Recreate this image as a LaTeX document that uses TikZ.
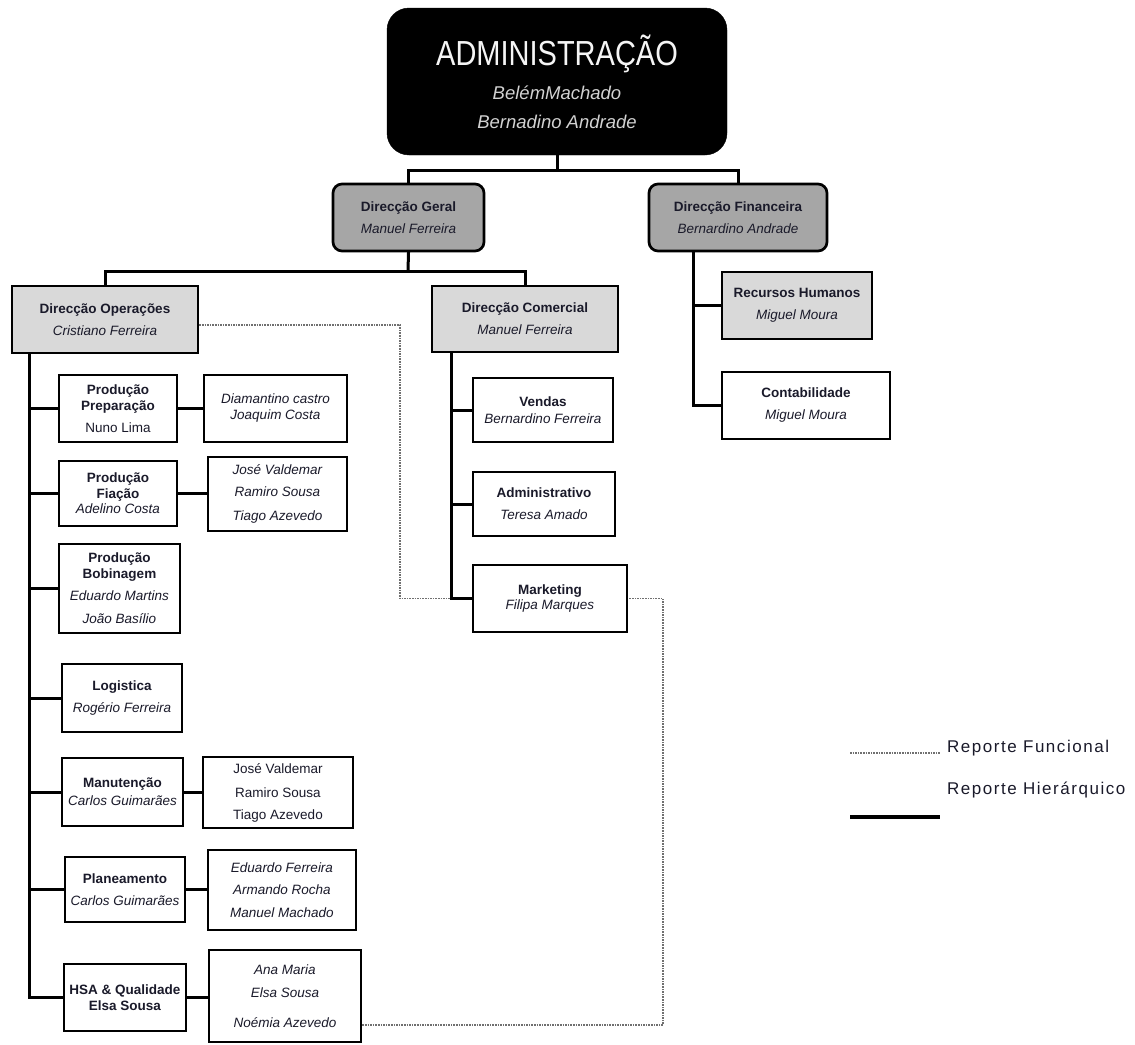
\documentclass[tikz,border=0pt]{standalone}
\usepackage{fontspec}
\setmainfont{Liberation Sans}
\usetikzlibrary{calc}

\definecolor{boxgray}{HTML}{D9D9D9}
\definecolor{dirgray}{HTML}{A6A6A6}
\definecolor{inkcol}{HTML}{1A1A2A}
\definecolor{funcgray}{HTML}{707070}

\newcommand\boxfont{\fontsize{13.5}{22}\selectfont\lineskiplimit=-50pt\relax}
\newcommand\legfont{\fontsize{17}{19}\selectfont\addfontfeature{LetterSpace=9}}

\tikzset{
  box/.style={draw=black, line width=2.7pt, inner sep=0pt, align=center,
              font=\boxfont, text=inkcol, fill=white},
  lightbox/.style={box, fill=boxgray},
  dirbox/.style={box, fill=dirgray, rounded corners=9pt},
  topbox/.style={draw=black, fill=black, rounded corners=22pt, inner sep=0pt,
                 align=center, text=gray!35, font=\fontsize{18.5}{29}\selectfont},
  hier/.style={line width=3pt, line cap=rect},
  func/.style={draw=funcgray, line width=1.6pt, densely dotted},
}

\begin{document}
\begin{tikzpicture}[x=1pt, y=-1pt]
\useasboundingbox (0,0) rectangle (1135,1044);

% ---- top levels
\node[topbox, minimum width=340pt, minimum height=147pt] (admin) at (557,81.5)
  {\scalebox{1}[1.2]{\fontsize{29}{30}\selectfont\color{gray!8}ADMINISTRAÇÃO}\\[5pt]
   \textit{BelémMachado}\\ \textit{Bernadino Andrade}};

\node[dirbox, minimum width=151pt, minimum height=67pt] (dg) at (408.5,217.5)
  {\textbf{Direcção Geral}\\ \textit{Manuel Ferreira}};
\node[dirbox, minimum width=178pt, minimum height=67pt] (df) at (738,217.5)
  {\textbf{Direcção Financeira}\\ \textit{Bernardino Andrade}};

\node[lightbox, minimum width=186pt, minimum height=67pt] (dop) at (105,319.5)
  {\textbf{Direcção Operações}\\ \textit{Cristiano Ferreira}};
\node[lightbox, minimum width=186pt, minimum height=66pt] (dcom) at (525,319)
  {\textbf{Direcção Comercial}\\ \textit{Manuel Ferreira}};

% ---- financial branch
\node[lightbox, minimum width=150pt, minimum height=67pt] (rh) at (797,305.5)
  {\textbf{Recursos Humanos}\\ \textit{Miguel Moura}};
\node[box, minimum width=168pt, minimum height=67pt] (cont) at (806,405.5)
  {\textbf{Contabilidade}\\ \textit{Miguel Moura}};

% ---- commercial branch
\node[box, minimum width=140pt, minimum height=64pt] (vend) at (543,410)
  {\textbf{Vendas}\\[-5pt] \textit{Bernardino Ferreira}};
\node[box, minimum width=142pt, minimum height=64pt] (adm) at (544,504)
  {\textbf{Administrativo}\\ \textit{Teresa Amado}};
\node[box, minimum width=154pt, minimum height=67pt] (mkt) at (550,598.5)
  {\textbf{Marketing}\\[-7pt] \textit{Filipa Marques}};

% ---- operations branch
\node[box, minimum width=118pt, minimum height=67pt] (pp) at (118,408.5)
  {\textbf{Produção}\\[-6pt] \textbf{Preparação}\\ Nuno Lima};
\node[box, minimum width=143pt, minimum height=67pt] (ppR) at (275.5,408.5)
  {\textit{Diamantino castro}\\[-6pt] \textit{Joaquim Costa}};

\node[box, minimum width=118pt, minimum height=65pt] (pf) at (118,493.5)
  {\textbf{Produção}\\[-6pt] \textbf{Fiação}\\[-7pt] \textit{Adelino Costa}};
\node[box, minimum width=139pt, minimum height=74pt] (pfR) at (277.5,494)
  {\textit{José Valdemar}\\ \textit{Ramiro Sousa}\\[2pt] \textit{Tiago Azevedo}};

\node[box, minimum width=121pt, minimum height=89pt] (pb) at (119.5,588.5)
  {\textbf{Produção}\\[-6pt] \textbf{Bobinagem}\\ \textit{Eduardo Martins}\\[1pt] \textit{João Basílio}};

\node[box, minimum width=120pt, minimum height=68pt] (log) at (122,698)
  {\textbf{Logistica}\\ \textit{Rogério Ferreira}};

\node[box, minimum width=121pt, minimum height=68pt] (man) at (122.5,792)
  {\textbf{Manutenção}\\[-4pt] \textit{Carlos Guimarães}};
\node[box, minimum width=150pt, minimum height=71pt] (manR) at (278,792.5)
  {José Valdemar\\[2pt] Ramiro Sousa\\ Tiago Azevedo};

\node[box, minimum width=120pt, minimum height=65pt] (plan) at (125,889.5)
  {\textbf{Planeamento}\\ \textit{Carlos Guimarães}};
\node[box, minimum width=148pt, minimum height=80pt] (planR) at (282,890)
  {\textit{Eduardo Ferreira}\\ \textit{Armando Rocha}\\[1pt] \textit{Manuel Machado}};

\node[box, minimum width=122pt, minimum height=67pt] (hsa) at (125,997.5)
  {\textbf{HSA \& Qualidade}\\[-6pt] \textbf{Elsa Sousa}};
\node[box, minimum width=152pt, minimum height=92pt] (hsaR) at (285,996)
  {\textit{Ana Maria}\\[1pt] \textit{Elsa Sousa}\\[8pt] \textit{Noémia Azevedo}};

% ---- trunk points
\coordinate (b1) at (557,170);
\coordinate (b2) at (408,271);
\coordinate (ltrunk) at (29,354);
\coordinate (mtrunk) at (451,353);
\coordinate (rtrunk) at (693,252);

% ---- hierarchical connectors
\begin{scope}[hier]
  \draw (admin.south) -- (b1);
  \draw (dg.north) |- (b1) -| (df.north);
  \draw (dg.south) -- (b2);
  \draw (dop.north) |- (b2) -| (dcom.north);

  \draw (rtrunk) |- (cont.west);
  \draw (rtrunk |- rh.west) -- (rh.west);

  \draw (mtrunk) |- (mkt.west);
  \draw (mtrunk |- vend.west) -- (vend.west);
  \draw (mtrunk |- adm.west) -- (adm.west);

  \draw (ltrunk) |- (hsa.west);
  \foreach \n in {pp,pf,pb,log,man,plan}
    \draw (ltrunk |- \n.west) -- (\n.west);

  \draw (pp.east) -- (ppR.west);
  \draw (pf.east) -- (pf.east -| pfR.west);
  \draw (man.east) -- (man.east -| manR.west);
  \draw (plan.east) -- (plan.east -| planR.west);
  \draw (hsa.east) -- (hsa.east -| hsaR.west);
\end{scope}

% ---- functional reporting lines
\coordinate (fa) at (400,325);
\coordinate (fb) at (663,1025);
\draw[func] ([yshift=-5.5pt]dop.east) -- (fa) |- (mtrunk |- mkt.west);
\draw[func] (hsaR.east |- fb) -- (fb) |- (mkt.east);

% ---- legend
\coordinate (lf1) at (850,753);
\coordinate (lf2) at (940,753);
\coordinate (lh1) at (850,817);
\coordinate (lh2) at (940,817);
\draw[func] (lf1) -- (lf2);
\draw[line width=3.8pt] (lh1) -- (lh2);
\node[anchor=west, inner sep=0pt, font=\legfont, text=inkcol] (lfun) at (947,748) {Reporte Funcional};
\node[anchor=west, inner sep=0pt, font=\legfont, text=inkcol] (lhie) at (947,790) {Reporte Hierárquico};
\end{tikzpicture}
\end{document}
